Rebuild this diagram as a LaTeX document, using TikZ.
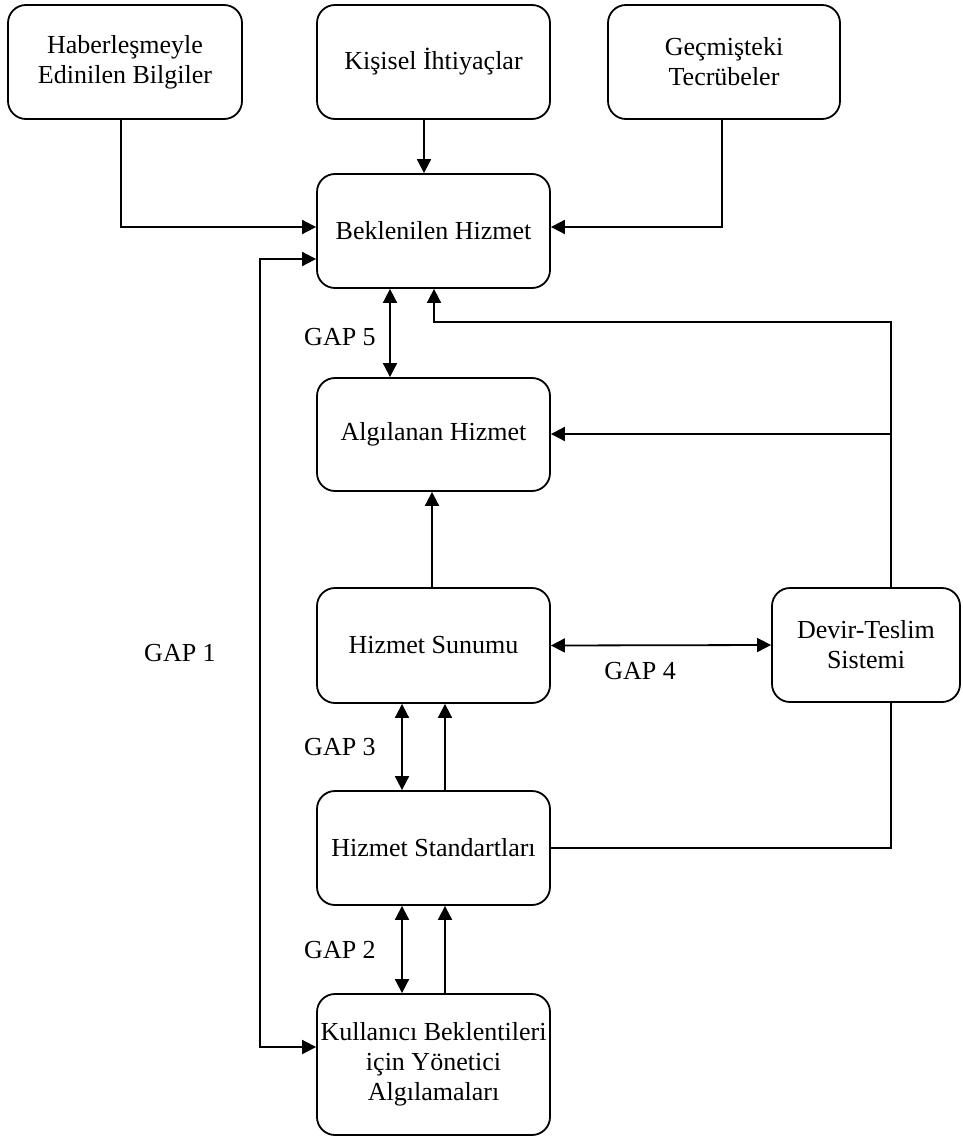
\documentclass[tikz,border=0pt]{standalone}
\usepackage{fontspec}
\setmainfont{Liberation Serif}
\usetikzlibrary{arrows.meta}

\begin{document}
\begin{tikzpicture}[x=1pt,y=-1pt,
  box/.style={draw, line width=1.8pt, rounded corners=18pt, align=center,
    minimum width=233pt, minimum height=114pt, inner sep=2pt,
    font=\fontsize{26}{30}\selectfont},
  conn/.style={line width=1.8pt},
  arr/.style={conn, -{Triangle[length=14pt,width=14pt]}},
  darr/.style={conn, {Triangle[length=14pt,width=14pt]}-{Triangle[length=14pt,width=14pt]}},
  gap/.style={font=\fontsize{26}{30}\selectfont}]
  \useasboundingbox[fill=white] (0,0) rectangle (962,1137);

  % boxes
  \node[box, minimum width=234pt] (H) at (125,62) {Haberleşmeyle\\Edinilen Bilgiler};
  \node[box] (K) at (433.5,62) {Kişisel İhtiyaçlar};
  \node[box, minimum width=232pt] (G) at (724,62) {Geçmişteki\\Tecrübeler};
  \node[box] (B) at (433.5,231) {Beklenilen Hizmet};
  \node[box, minimum height=113pt] (A) at (433.5,434.5) {Algılanan Hizmet};
  \node[box, minimum height=115pt] (S) at (433.5,645.5) {Hizmet Sunumu};
  \node[box, minimum width=188pt] (D) at (866,645) {Devir-Teslim\\Sistemi};
  \node[box] (T) at (433.5,848) {Hizmet Standartları};
  \node[box, minimum height=141pt] (U) at (433.5,1064.5) {Kullanıcı Beklentileri\\için Yönetici\\Algılamaları};

  % gap labels
  \node[gap] (g5) at (340,337) {GAP 5};
  \node[gap] (g1) at (180,653) {GAP 1};
  \node[gap] (g4) at (640,671) {GAP 4};
  \node[gap] (g3) at (340,747) {GAP 3};
  \node[gap] (g2) at (340,950) {GAP 2};

  % connector columns and rows
  \coordinate (xH) at (121,0);
  \coordinate (xK) at (424,0);
  \coordinate (xG) at (722,0);
  \coordinate (xL) at (260,0);
  \coordinate (x5) at (390,0);
  \coordinate (xF) at (434,0);
  \coordinate (xS) at (432,0);
  \coordinate (xR) at (891,0);
  \coordinate (xP) at (402,0);
  \coordinate (xQ) at (445,0);
  \coordinate (yIn) at (0,227);
  \coordinate (yL1) at (0,259);
  \coordinate (yL2) at (0,1047);
  \coordinate (yF) at (0,322);
  \coordinate (yA) at (0,434);

  % inputs to the expected service
  \draw[arr] (H.south -| xH) |- (B.west |- yIn);
  \draw[arr] (K.south -| xK) -- (B.north -| xK);
  \draw[arr] (G.south -| xG) |- (B.east |- yIn);

  % GAP 1 loop
  \draw[darr] (B.west |- yL1) -| (xL |- yL2) -- (U.west |- yL2);

  % GAP 5
  \draw[darr] (B.south -| x5) -- (A.north -| x5);

  % feedback from the delivery system
  \draw[arr] (D.north -| xR) |- (xF |- yF) -- (B.south -| xF);
  \draw[arr] (xR |- yA) -- (A.east |- yA);

  % service delivery to perceived service
  \draw[arr] (S.north -| xS) -- (A.south -| xS);

  % GAP 4
  \draw[darr] (S.east) -- (D.west);

  % delivery system to standards
  \draw[conn] (D.south -| xR) |- (T.east);

  % GAP 3
  \draw[darr] (S.south -| xP) -- (T.north -| xP);
  \draw[arr] (T.north -| xQ) -- (S.south -| xQ);

  % GAP 2
  \draw[darr] (T.south -| xP) -- (U.north -| xP);
  \draw[arr] (U.north -| xQ) -- (T.south -| xQ);
\end{tikzpicture}
\end{document}
